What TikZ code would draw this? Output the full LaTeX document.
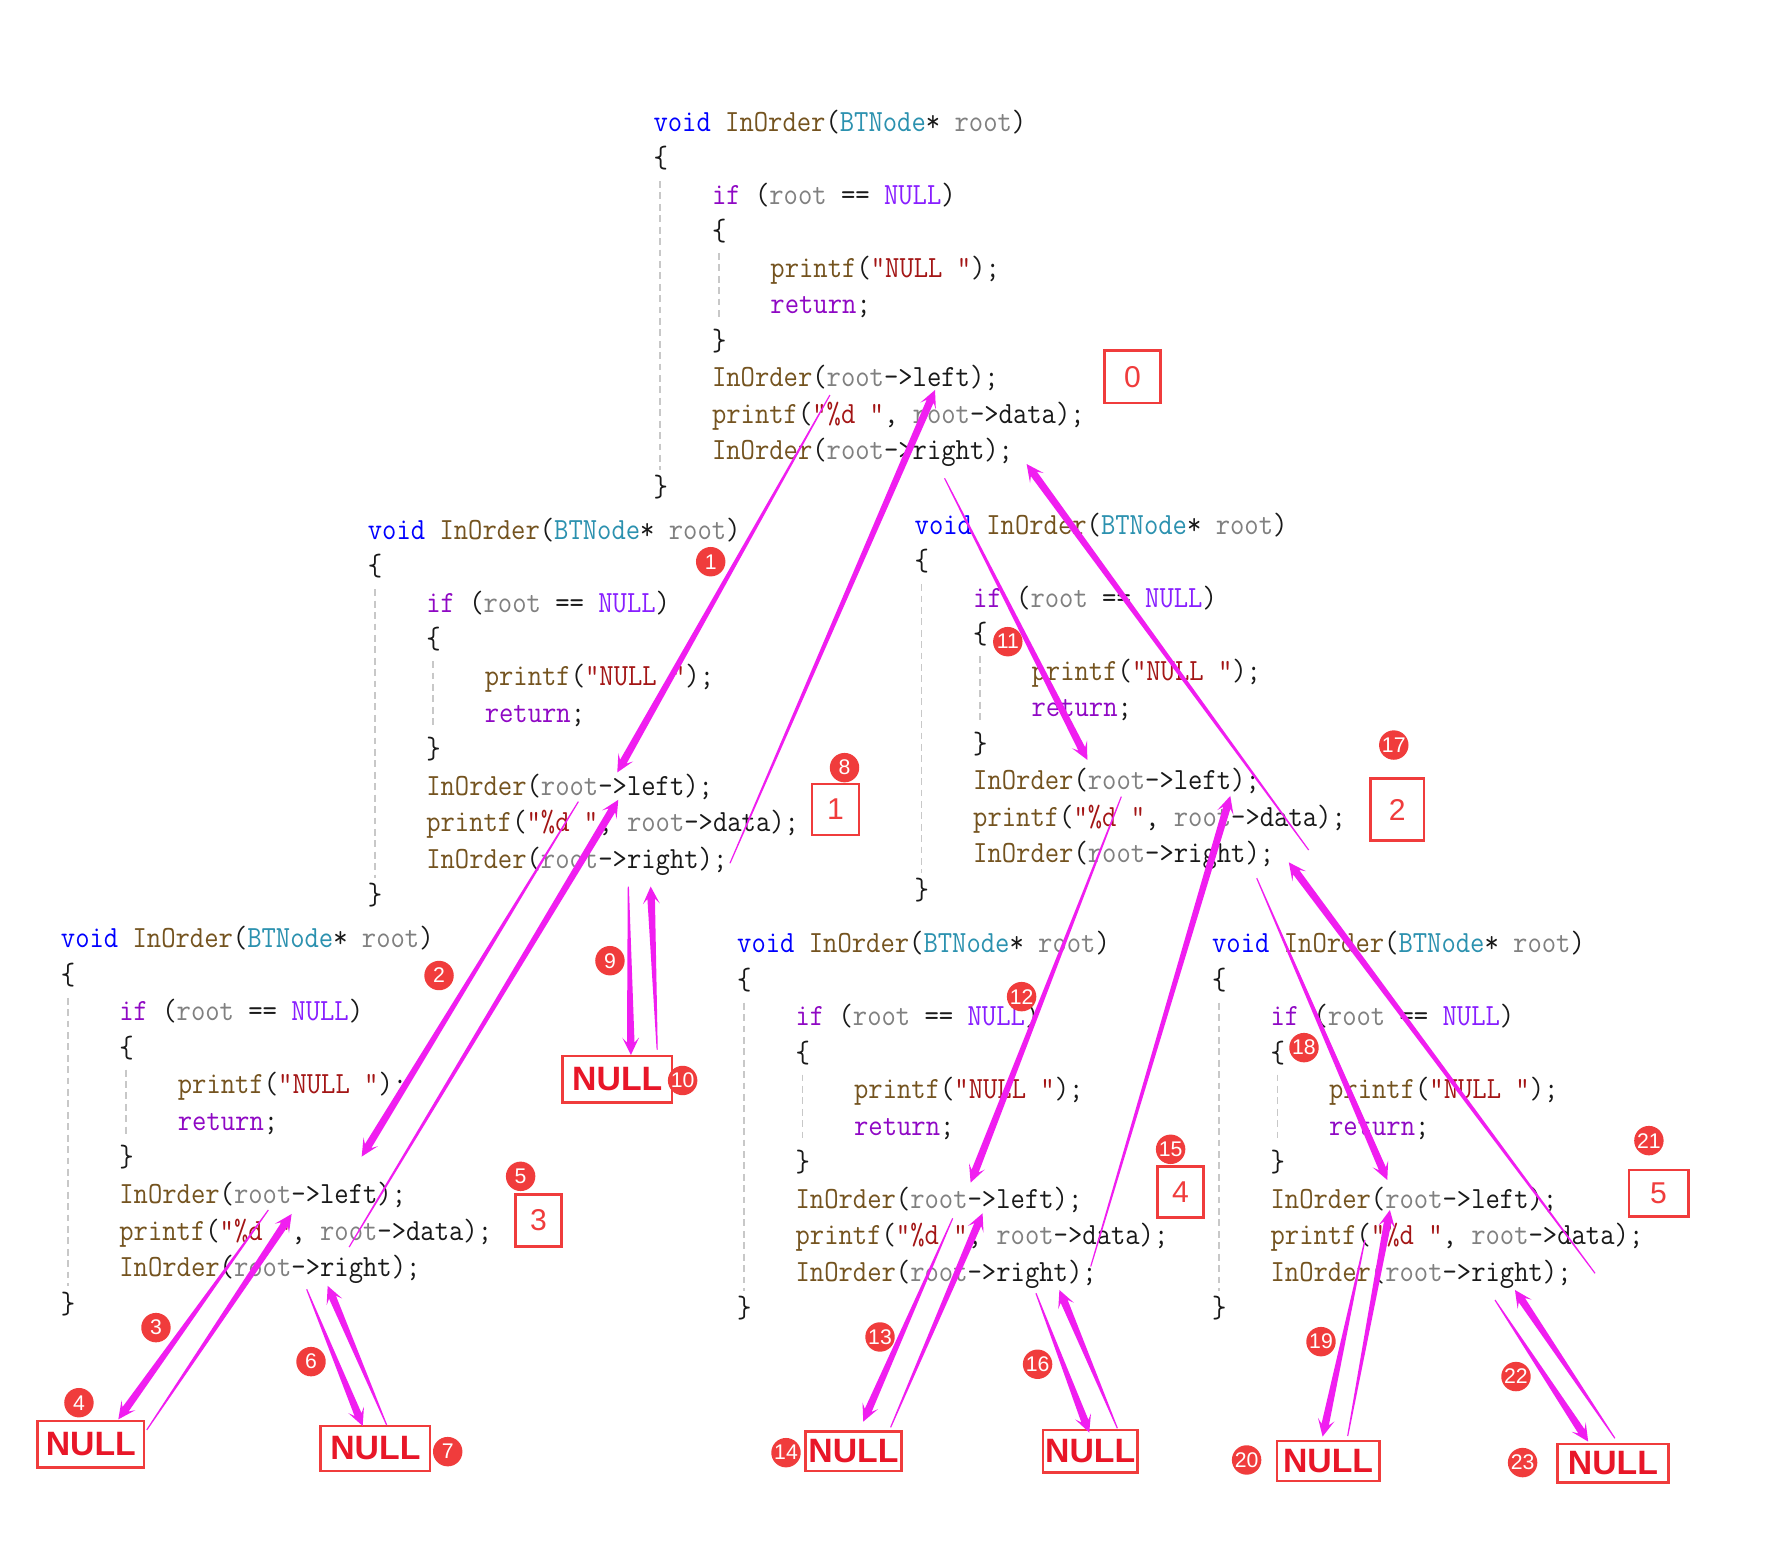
\documentclass[tikz,border=0pt]{standalone}
\usepackage{fontspec}
\usetikzlibrary{calc}
\newfontfamily\codefont[FakeStretch=0.9036]{Latin Modern Mono}
\newfontfamily\numfont{Liberation Sans}
\definecolor{ckw}{RGB}{0,0,255}
\definecolor{cfn}{RGB}{116,83,31}
\definecolor{cty}{RGB}{43,145,175}
\definecolor{cpar}{RGB}{128,128,128}
\definecolor{cctl}{RGB}{143,8,196}
\definecolor{cmac}{RGB}{136,30,255}
\definecolor{cstr}{RGB}{163,21,21}
\definecolor{cpun}{RGB}{25,25,25}
\definecolor{cred}{RGB}{240,60,60}
\definecolor{cnull}{RGB}{232,22,40}
\definecolor{mag}{RGB}{240,30,240}
\definecolor{cguide}{RGB}{200,200,200}
\newcommand\kw[1]{\textcolor{ckw}{#1}}
\newcommand\fn[1]{\textcolor{cfn}{#1}}
\newcommand\ty[1]{\textcolor{cty}{#1}}
\newcommand\pa[1]{\textcolor{cpar}{#1}}
\newcommand\ctl[1]{\textcolor{cctl}{#1}}
\newcommand\mac[1]{\textcolor{cmac}{#1}}
\newcommand\str[1]{\textcolor{cstr}{#1}}
\newcommand\codeblock[3]{%
\begin{scope}[shift={(#2,#3)}]
\draw[guide] (6.4,52) -- (6.4,305);
\draw[guide] (57.6,115) -- (57.6,171);
\node[codeln] (#1-1) at (0,8.3) {\kw{void} \fn{InOrder}(\ty{BTNode}* \pa{root})};
\node[codeln] (#1-2) at (0,40.3) {\{};
\node[codeln] (#1-3) at (51.24,72.3) {\ctl{if} (\pa{root} == \mac{NULL})};
\node[codeln] (#1-4) at (51.24,104.3) {\{};
\node[codeln] (#1-5) at (102.5,136.3) {\fn{printf}(\str{”NULL ”});};
\node[codeln] (#1-6) at (102.5,168.3) {\ctl{return};};
\node[codeln] (#1-7) at (51.24,200.3) {\}};
\node[codeln] (#1-8) at (51.24,232.3) {\fn{InOrder}(\pa{root}->left);};
\node[codeln] (#1-9) at (51.24,264.3) {\fn{printf}(\str{”\%d ”}, \pa{root}->data);};
\node[codeln] (#1-10) at (51.24,296.3) {\fn{InOrder}(\pa{root}->right);};
\node[codeln] (#1-11) at (0,328.3) {\}};
\end{scope}}
\newcommand\tarrow[2]{%
\path ($(#2)!7.6pt!(#1)$) coordinate (tb) ($(#2)!5.4pt!(#1)$) coordinate (tn);
\fill[arr] ($(#1)!0.25pt!90:(#2)$) -- ($(tn)!1.65pt!90:(#2)$) -- ($(tb)!3.7pt!90:(#2)$) -- (#2) -- ($(tb)!3.7pt!-90:(#2)$) -- ($(tn)!1.65pt!-90:(#2)$) -- ($(#1)!0.25pt!-90:(#2)$) -- cycle;}
\begin{document}
\begin{tikzpicture}[x=0.5pt,y=-0.5pt,
  codeln/.style={anchor=base west,inner sep=0pt,font=\codefont\fontsize{13.5pt}{16pt}\selectfont,text=cpun},
  guide/.style={draw=cguide,line width=0.8pt,dash pattern=on 3pt off 2pt},
  numbox/.style={draw=cred,line width=1.2pt,inner sep=0pt,text=cred,font=\numfont\fontsize{13.2pt}{14pt}\selectfont},
  nullbox/.style={draw=cred,line width=1.2pt,inner sep=0pt,text=cnull,font=\numfont\bfseries\fontsize{14.8pt}{16pt}\selectfont},
  badge/.style={circle,fill=cred,inner sep=0pt,minimum size=12.9pt,text=white,font=\numfont\fontsize{9.3pt}{10pt}\selectfont},
  arr/.style={fill=mag}]
\useasboundingbox (0,0) rectangle (1568,1356.8);
\fill[white] (0,0) rectangle (1568,1356.8);
% code blocks
\codeblock{b0}{572.4}{106.7}
\codeblock{b1}{322}{464.5}
\codeblock{b2}{801.3}{460}
\codeblock{b3}{53}{822.5}
\codeblock{b4}{645.7}{826.8}
\codeblock{b5}{1062}{826.8}
% printed value boxes
\node[numbox,minimum width=24.5pt,minimum height=22.9pt] (v0) at (992.5,330.2) {0};
\node[numbox,minimum width=20.6pt,minimum height=22.3pt] (v1) at (732.2,709.5) {1};
\node[numbox,minimum width=23.3pt,minimum height=27.3pt] (v2) at (1224.7,709.5) {2};
\node[numbox,minimum width=20.4pt,minimum height=22.9pt] (v3) at (471.9,1069.7) {3};
\node[numbox,minimum width=20pt,minimum height=22.3pt] (v4) at (1034.6,1044.9) {4};
\node[numbox,minimum width=26pt,minimum height=20.4pt] (v5) at (1453.7,1045.9) {5};
% NULL boxes
\node[nullbox,minimum width=46.6pt,minimum height=20.4pt] (n4) at (79.6,1265.9) {NULL};
\node[nullbox,minimum width=47.9pt,minimum height=19.7pt] (n7) at (329,1269.5) {NULL};
\node[nullbox,minimum width=48pt,minimum height=20.4pt] (n10) at (541,946) {NULL};
\node[nullbox,minimum width=42pt,minimum height=17.2pt] (n14) at (748,1272) {NULL};
\node[nullbox,minimum width=41.3pt,minimum height=18.7pt] (n16) at (955.5,1272) {NULL};
\node[nullbox,minimum width=44.8pt,minimum height=17.5pt] (n20) at (1164,1280.5) {NULL};
\node[nullbox,minimum width=48.4pt,minimum height=17pt] (n23) at (1413.7,1282.6) {NULL};
% arrow end points
\coordinate (At) at (727.4,346.2); \coordinate (Ah) at (541,677);
\coordinate (Et) at (506.9,702.6); \coordinate (Eh) at (317,1013.7);
\coordinate (Gt) at (235.2,1060.5); \coordinate (Gh) at (103.7,1244);
\coordinate (Ht) at (128.6,1253.3); \coordinate (Hh) at (255.6,1064);
\coordinate (It) at (268.8,1130); \coordinate (Ih) at (317.9,1249.8);
\coordinate (Jt) at (338.9,1249); \coordinate (Jh) at (287.2,1127);
\coordinate (Kt) at (306,1093); \coordinate (Kh) at (541.9,701);
\coordinate (Mt) at (550.7,777); \coordinate (Mh) at (553,924.6);
\coordinate (Nt) at (576,920); \coordinate (Nh) at (570.3,777);
\coordinate (Lt) at (639.8,756.6); \coordinate (Lh) at (819.5,341.8);
\coordinate (Ct) at (827.9,419.2); \coordinate (Ch) at (953,666);
\coordinate (Ot) at (982.8,698.2); \coordinate (Oh) at (850.7,1036.5);
\coordinate (Pt) at (835,1067.8); \coordinate (Ph) at (756.6,1246);
\coordinate (Qt) at (780.6,1251); \coordinate (Qh) at (861.2,1063.4);
\coordinate (Rt) at (908,1133.5); \coordinate (Rh) at (954.7,1255.6);
\coordinate (St) at (979.3,1251.8); \coordinate (Sh) at (928.5,1130.6);
\coordinate (Tt) at (956,1110); \coordinate (Th) at (1078.3,697.6);
\coordinate (Ut) at (1101.5,769.7); \coordinate (Uh) at (1215.9,1034.2);
\coordinate (Vt) at (1196.3,1086.8); \coordinate (Vh) at (1159.2,1259.1);
\coordinate (Wt) at (1181.2,1258.6); \coordinate (Wh) at (1218.2,1060.5);
\coordinate (Xt) at (1310.3,1139.4); \coordinate (Xh) at (1392,1263.5);
\coordinate (Yt) at (1415.4,1260.6); \coordinate (Yh) at (1327.8,1130.6);
\coordinate (Zt) at (1398,1116); \coordinate (Zh) at (1129.6,755.8);
\coordinate (Dt) at (1147,745); \coordinate (Dh) at (899.8,406.7);
% arrows
\tarrow{At}{Ah}\tarrow{Et}{Eh}\tarrow{Gt}{Gh}\tarrow{Ht}{Hh}
\tarrow{It}{Ih}\tarrow{Jt}{Jh}\tarrow{Kt}{Kh}\tarrow{Mt}{Mh}
\tarrow{Nt}{Nh}\tarrow{Lt}{Lh}\tarrow{Ct}{Ch}\tarrow{Ot}{Oh}
\tarrow{Pt}{Ph}\tarrow{Qt}{Qh}\tarrow{Rt}{Rh}\tarrow{St}{Sh}
\tarrow{Tt}{Th}\tarrow{Ut}{Uh}\tarrow{Vt}{Vh}\tarrow{Wt}{Wh}
\tarrow{Xt}{Xh}\tarrow{Yt}{Yh}\tarrow{Zt}{Zh}\tarrow{Dt}{Dh}
% step badges
\node[badge] (s1) at (622.9,492.3) {1};
\node[badge] (s2) at (384.8,855) {2};
\node[badge] (s3) at (136.7,1163.6) {3};
\node[badge] (s4) at (69.2,1229.4) {4};
\node[badge] (s5) at (456.3,1031) {5};
\node[badge] (s6) at (272.6,1193.4) {6};
\node[badge] (s7) at (392.4,1272.3) {7};
\node[badge] (s8) at (740.2,672.8) {8};
\node[badge] (s9) at (534.6,842) {9};
\node[badge] (s10) at (598.3,947) {10};
\node[badge] (s11) at (883.3,562.4) {11};
\node[badge] (s12) at (895.4,873.5) {12};
\node[badge] (s13) at (771.3,1171.8) {13};
\node[badge] (s14) at (688.9,1273.2) {14};
\node[badge] (s15) at (1026,1007.3) {15};
\node[badge] (s16) at (909.4,1195.7) {16};
\node[badge] (s17) at (1221.6,653) {17};
\node[badge] (s18) at (1142.9,918.2) {18};
\node[badge] (s19) at (1157.8,1175.9) {19};
\node[badge] (s20) at (1092.6,1279.6) {20};
\node[badge] (s21) at (1445.2,999.7) {21};
\node[badge] (s22) at (1328.7,1206.5) {22};
\node[badge] (s23) at (1334.5,1281.9) {23};
\end{tikzpicture}
\end{document}
